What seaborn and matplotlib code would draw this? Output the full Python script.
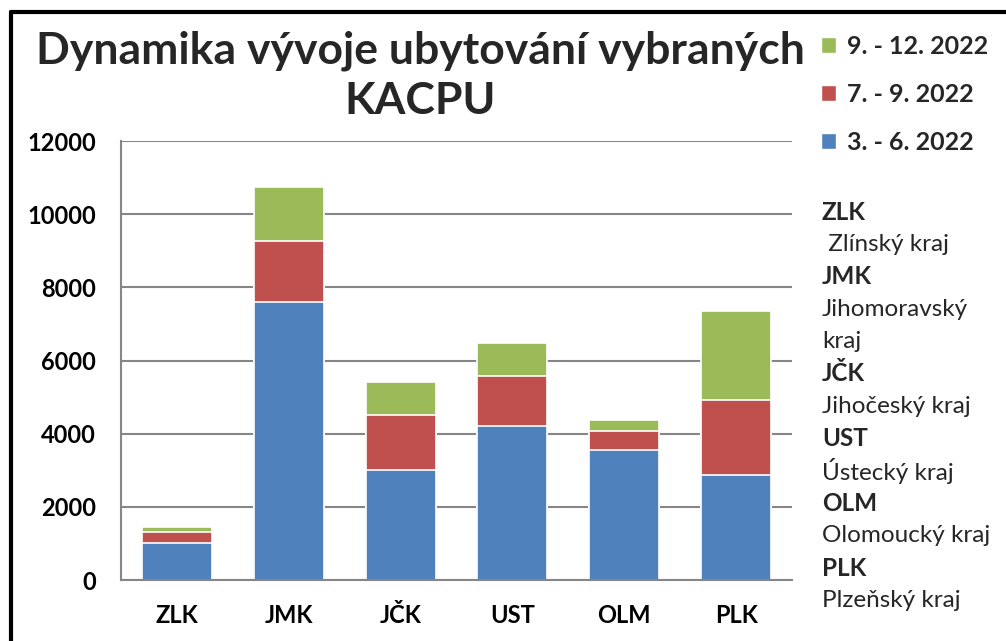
import matplotlib
matplotlib.use("Agg")
import matplotlib.pyplot as plt
import seaborn as sns
import pandas as pd
from matplotlib.lines import Line2D
from matplotlib.patches import Patch

# data
kraje = ["ZLK", "JMK", "JČK", "UST", "OLM", "PLK"]
obdobi_3_6 = [1000, 7600, 3000, 4200, 3560, 2880]
obdobi_7_9 = [310, 1670, 1500, 1380, 520, 2050]
obdobi_9_12 = [140, 1470, 900, 900, 300, 2430]
legenda = ["9. - 12. 2022", "7. - 9. 2022", "3. - 6. 2022"]
popisky = [("ZLK", " Zlínský kraj"), ("JMK", "Jihomoravský\nkraj"),
           ("JČK", "Jihočeský kraj"), ("UST", "Ústecký kraj"),
           ("OLM", "Olomoucký kraj"), ("PLK", "Plzeňský kraj")]

modra = "#4F81BD"
cervena = "#C0504D"
zelena = "#9BBB59"

df = pd.DataFrame({"kraj": kraje, "a": obdobi_3_6, "b": obdobi_7_9, "c": obdobi_9_12})
df["ab"] = df["a"] + df["b"]
df["abc"] = df["ab"] + df["c"]

sns.set_theme(style="white")
plt.rcParams["font.family"] = ["Lato", "DejaVu Sans"]

fig = plt.figure(figsize=(10.06, 6.41), dpi=100)
ax = fig.add_axes([121 / 1006, 1 - 580 / 641, (792 - 121) / 1006, (580 - 141) / 641])

for col, barva in [("abc", zelena), ("ab", cervena), ("a", modra)]:
    sns.barplot(data=df, x="kraj", y=col, color=barva, width=0.625,
                edgecolor="white", linewidth=1.2, saturation=1, ax=ax)

ax.set_ylim(0, 12000)
ax.set_xlim(-0.5, 5.5)
ax.set_yticks(range(0, 12001, 2000))
ax.yaxis.grid(True, color="#868686", linewidth=1.5)
ax.set_axisbelow(True)
ax.set_xlabel("")
ax.set_ylabel("")
for s in ["top", "right"]:
    ax.spines[s].set_visible(False)
for s in ["left", "bottom"]:
    ax.spines[s].set_color("#868686")
    ax.spines[s].set_linewidth(1.5)
ax.tick_params(length=0, labelsize=17)
ax.tick_params(axis="y", pad=18)
ax.tick_params(axis="x", pad=17)
for t in ax.get_xticklabels() + ax.get_yticklabels():
    t.set_fontweight("bold")
    t.set_color("black")

fig.text(0.418, 1 - 76 / 641, "Dynamika vývoje ubytování vybraných\nKACPU",
         ha="center", va="center", fontsize=32, fontweight="bold",
         linespacing=1.3)

handles = [Patch(facecolor=c) for c in [zelena, cervena, modra]]
fig.legend(handles, legenda, loc="upper left", bbox_to_anchor=(798 / 1006, 1 - 12 / 641),
           frameon=False, prop={"size": 18, "weight": "bold"},
           handlelength=0.6, handleheight=0.6, handletextpad=0.45, labelspacing=1.0)

y = 212
for zkratka, nazev in popisky:
    fig.text(822 / 1006, 1 - y / 641, zkratka, fontsize=17.5, fontweight="bold", va="center")
    y += 32.4
    for radek in nazev.split("\n"):
        fig.text(822 / 1006, 1 - y / 641, radek, fontsize=17.5, va="center")
        y += 32.4

# ramecek
fig.add_artist(Line2D([11 / 1006, 11 / 1006], [0, 1 - 12 / 641], transform=fig.transFigure,
                      color="black", linewidth=3))
fig.add_artist(Line2D([11 / 1006, 1], [1 - 12 / 641, 1 - 12 / 641], transform=fig.transFigure,
                      color="black", linewidth=3))

fig.savefig("out.png", dpi=100)
